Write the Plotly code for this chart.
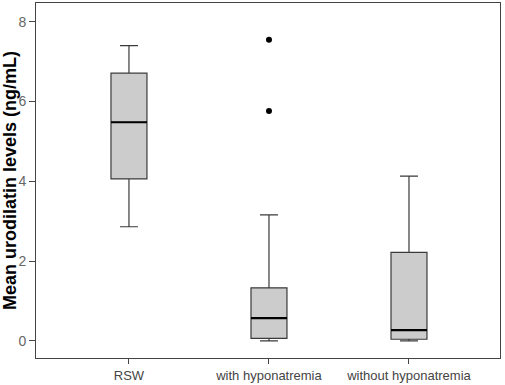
import plotly.graph_objects as go

categories = ["RSW", "with hyponatremia", "without hyponatremia"]
lower_whisker = [2.86, 0.00, 0.00]
q1_vals = [4.06, 0.06, 0.04]
median_vals = [5.48, 0.57, 0.27]
q3_vals = [6.71, 1.33, 2.22]
upper_whisker = [7.40, 3.16, 4.13]
outlier_cat = [1, 1]
outlier_vals = [7.55, 5.76]
y_ticks = [0, 2, 4, 6, 8]

BOX_W = 0.257
positions = list(range(len(categories)))

fig = go.Figure()
fig.add_trace(go.Box(
    x=positions,
    q1=q1_vals, median=median_vals, q3=q3_vals,
    lowerfence=lower_whisker, upperfence=upper_whisker,
    width=BOX_W, whiskerwidth=0.5,
    fillcolor="#cccccc",
    line=dict(color="#3a3a3a", width=1.2),
    boxpoints=False, showlegend=False, hoverinfo="skip",
))
# thicker black median lines
for i, m in zip(positions, median_vals):
    fig.add_trace(go.Scatter(
        x=[i - BOX_W / 2, i + BOX_W / 2], y=[m, m], mode="lines",
        line=dict(color="black", width=2.2), showlegend=False, hoverinfo="skip",
    ))
fig.add_trace(go.Scatter(
    x=outlier_cat, y=outlier_vals, mode="markers",
    marker=dict(color="black", size=6), showlegend=False, hoverinfo="skip",
))

fig.update_layout(
    width=505, height=385,
    margin=dict(l=36, r=5, t=2, b=26),
    plot_bgcolor="white", paper_bgcolor="white",
    font=dict(family="Liberation Sans, Arial, sans-serif", color="#555555"),
)
fig.update_xaxes(
    range=[-0.664, 2.65],
    tickvals=positions, ticktext=categories,
    ticks="outside", ticklen=5, tickcolor="#444444",
    tickfont=dict(size=13, color="#444444"),
    showgrid=False, zeroline=False,
    showline=True, linecolor="#444444", linewidth=1, mirror=True,
)
fig.update_yaxes(
    range=[-0.43, 8.47],
    tickvals=y_ticks,
    ticks="outside", ticklen=6, tickcolor="#444444",
    tickfont=dict(size=14, color="#666666"),
    title=dict(text="<b>Mean urodilatin levels (ng/mL)</b>",
               font=dict(size=18, color="black"), standoff=2),
    showgrid=False, zeroline=False,
    showline=True, linecolor="#444444", linewidth=1, mirror=True,
)

fig.write_html("out.html", config={"displayModeBar": False},
               post_script="document.body.style.margin='0';")
